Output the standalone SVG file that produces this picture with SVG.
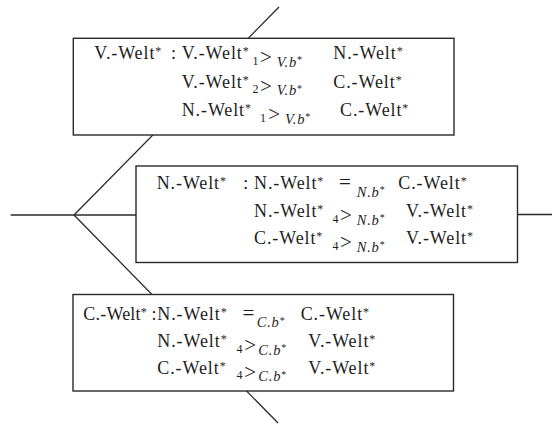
<svg xmlns="http://www.w3.org/2000/svg" width="552" height="426" viewBox="0 0 552 426">
<style>
.bg{fill:#fff}
.ln{stroke:#2a2a2a;stroke-width:1.3;fill:none}
.box{fill:#fff;stroke:#2a2a2a;stroke-width:1.4}
.t{font-family:"Liberation Serif",serif;font-size:18px;letter-spacing:0.9px;fill:#1e1e1e}
.a{font-size:12px;letter-spacing:0}
.sa{font-size:10px;letter-spacing:0}
.n{font-size:12px;letter-spacing:0}
.o{font-size:21px;letter-spacing:0}
.i{font-style:italic;font-size:14.5px;letter-spacing:0.8px}
.h0{letter-spacing:0.2px}
</style>
<rect class="bg" x="0" y="0" width="552" height="426"/>
<g id="connectors">
<path class="ln" d="M10.7,215 H136"/>
<path class="ln" d="M517,214.5 H552"/>
<path class="ln" d="M74,215 L279,7"/>
<path class="ln" d="M74,215 L278,423"/>
</g>
<g id="node-v">
<rect class="box" x="73.3" y="38.3" width="380.7" height="96.7"/>
<text class="t" y="59"><tspan x="94.3" y="59">V.-Welt</tspan><tspan class="a" y="55">*</tspan><tspan x="171" y="59">:</tspan><tspan x="181.7" y="59">V.-Welt</tspan><tspan class="a" y="55">*</tspan><tspan class="n" x="252.5" y="64.5">1</tspan><tspan class="o" x="260" y="64">&gt;</tspan><tspan class="i" x="276.7" y="66.5">V.b</tspan><tspan class="sa" y="63">*</tspan><tspan x="333.3" y="59">N.-Welt</tspan><tspan class="a" y="55">*</tspan></text>
<text class="t" y="87.5"><tspan x="181.7" y="87.5">V.-Welt</tspan><tspan class="a" y="83.5">*</tspan><tspan class="n" x="252.5" y="93">2</tspan><tspan class="o" x="260" y="92.5">&gt;</tspan><tspan class="i" x="276.7" y="95">V.b</tspan><tspan class="sa" y="91.5">*</tspan><tspan x="333.3" y="87.5">C.-Welt</tspan><tspan class="a" y="83.5">*</tspan></text>
<text class="t" y="116"><tspan x="181.7" y="116">N.-Welt</tspan><tspan class="a" y="112">*</tspan><tspan class="n" x="260" y="121.5">1</tspan><tspan class="o" x="268.3" y="121">&gt;</tspan><tspan class="i" x="285" y="123.5">V.b</tspan><tspan class="sa" y="120">*</tspan><tspan x="340" y="116">C.-Welt</tspan><tspan class="a" y="112">*</tspan></text>
</g>
<g id="node-n">
<rect class="box" x="136" y="166" width="381.5" height="96.5"/>
<text class="t" y="189"><tspan x="156.7" y="189">N.-Welt</tspan><tspan class="a" y="185">*</tspan><tspan x="243.3" y="189">:</tspan><tspan x="254" y="189">N.-Welt</tspan><tspan class="a" y="185">*</tspan><tspan class="o" x="339" y="189">=</tspan><tspan class="i" x="356.7" y="196.5">N.b</tspan><tspan class="sa" y="193">*</tspan><tspan x="398.3" y="189">C.-Welt</tspan><tspan class="a" y="185">*</tspan></text>
<text class="t" y="217"><tspan x="254" y="217">N.-Welt</tspan><tspan class="a" y="213">*</tspan><tspan class="n" x="332.5" y="222.5">4</tspan><tspan class="o" x="340" y="222">&gt;</tspan><tspan class="i" x="356.7" y="224.5">N.b</tspan><tspan class="sa" y="221">*</tspan><tspan x="406" y="217">V.-Welt</tspan><tspan class="a" y="213">*</tspan></text>
<text class="t" y="244"><tspan x="254" y="244">C.-Welt</tspan><tspan class="a" y="240">*</tspan><tspan class="n" x="332.5" y="249.5">4</tspan><tspan class="o" x="340" y="249">&gt;</tspan><tspan class="i" x="356.7" y="251.5">N.b</tspan><tspan class="sa" y="248">*</tspan><tspan x="406" y="244">V.-Welt</tspan><tspan class="a" y="240">*</tspan></text>
</g>
<g id="node-c">
<rect class="box" x="73" y="294.5" width="380.5" height="96.5"/>
<text class="t" y="319.5"><tspan class="h0" x="83.3" y="319.5">C.-Welt</tspan><tspan class="a" y="315.5">*</tspan><tspan x="151.5" y="319.5">:</tspan><tspan x="157.3" y="319.5">N.-Welt</tspan><tspan class="a" y="315.5">*</tspan><tspan class="o" x="242.5" y="319.5">=</tspan><tspan class="i" x="256.7" y="327">C.b</tspan><tspan class="sa" y="323.5">*</tspan><tspan x="300.7" y="319.5">C.-Welt</tspan><tspan class="a" y="315.5">*</tspan></text>
<text class="t" y="347"><tspan x="157.3" y="347">N.-Welt</tspan><tspan class="a" y="343">*</tspan><tspan class="n" x="236.5" y="352.5">4</tspan><tspan class="o" x="244.3" y="352">&gt;</tspan><tspan class="i" x="258.3" y="354.5">C.b</tspan><tspan class="sa" y="351">*</tspan><tspan x="308.3" y="347">V.-Welt</tspan><tspan class="a" y="343">*</tspan></text>
<text class="t" y="373.5"><tspan x="157.3" y="373.5">C.-Welt</tspan><tspan class="a" y="369.5">*</tspan><tspan class="n" x="236.5" y="379">4</tspan><tspan class="o" x="244.3" y="378.5">&gt;</tspan><tspan class="i" x="258.3" y="381">C.b</tspan><tspan class="sa" y="377.5">*</tspan><tspan x="308.3" y="373.5">V.-Welt</tspan><tspan class="a" y="369.5">*</tspan></text>
</g>
</svg>
